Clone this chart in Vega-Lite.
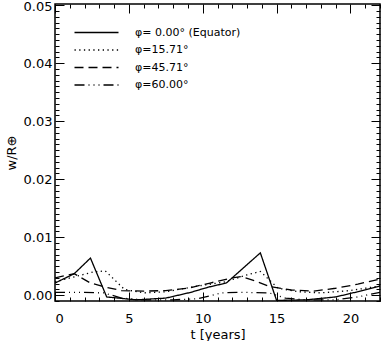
{
  "$schema": "https://vega.github.io/schema/vega-lite/v6.json",
  "width": 325,
  "height": 297,
  "autosize": {"type": "none"},
  "padding": {"left": 55, "top": 4, "right": 3, "bottom": 40},
  "background": "white",
  "config": {
    "view": {"stroke": "black", "strokeWidth": 1.5},
    "font": "DejaVu Sans",
    "axis": {"domain": false, "grid": false, "tickColor": "black", "tickWidth": 1, "labelColor": "black", "titleColor": "black", "labelFontSize": 13, "titleFontSize": 13, "titleFontWeight": "normal", "labelFont": "DejaVu Sans", "titleFont": "DejaVu Sans"}
  },
  "data": {"values": [
    {"phi": "0.00", "t": 0, "w": 0.0021},
    {"phi": "0.00", "t": 1.3, "w": 0.0037},
    {"phi": "0.00", "t": 2.4, "w": 0.0064},
    {"phi": "0.00", "t": 3.5, "w": -0.0003},
    {"phi": "0.00", "t": 5.5, "w": -0.0008},
    {"phi": "0.00", "t": 7.5, "w": -0.0005},
    {"phi": "0.00", "t": 9.2, "w": 0.0005},
    {"phi": "0.00", "t": 10.4, "w": 0.0014},
    {"phi": "0.00", "t": 11.6, "w": 0.0021},
    {"phi": "0.00", "t": 13.9, "w": 0.0073},
    {"phi": "0.00", "t": 15.0, "w": -0.0009},
    {"phi": "0.00", "t": 17.0, "w": -0.0008},
    {"phi": "0.00", "t": 19.0, "w": -0.0003},
    {"phi": "0.00", "t": 20.5, "w": 0.0006},
    {"phi": "0.00", "t": 22.0, "w": 0.0016},

    {"phi": "15.71", "t": 0, "w": 0.0023},
    {"phi": "15.71", "t": 1.5, "w": 0.0033},
    {"phi": "15.71", "t": 2.6, "w": 0.0040},
    {"phi": "15.71", "t": 3.4, "w": 0.0042},
    {"phi": "15.71", "t": 4.7, "w": 0.0010},
    {"phi": "15.71", "t": 6.0, "w": 0.0004},
    {"phi": "15.71", "t": 7.5, "w": 0.0006},
    {"phi": "15.71", "t": 9.5, "w": 0.0015},
    {"phi": "15.71", "t": 11.5, "w": 0.0023},
    {"phi": "15.71", "t": 13.0, "w": 0.0035},
    {"phi": "15.71", "t": 13.9, "w": 0.0041},
    {"phi": "15.71", "t": 15.1, "w": 0.0012},
    {"phi": "15.71", "t": 16.5, "w": 0.0006},
    {"phi": "15.71", "t": 18.0, "w": 0.0004},
    {"phi": "15.71", "t": 20.0, "w": 0.0008},
    {"phi": "15.71", "t": 22.0, "w": 0.0016},

    {"phi": "45.71", "t": 0, "w": 0.0030},
    {"phi": "45.71", "t": 1.3, "w": 0.0037},
    {"phi": "45.71", "t": 2.4, "w": 0.0021},
    {"phi": "45.71", "t": 3.4, "w": 0.0014},
    {"phi": "45.71", "t": 4.5, "w": 0.0008},
    {"phi": "45.71", "t": 6.0, "w": 0.0007},
    {"phi": "45.71", "t": 7.5, "w": 0.0008},
    {"phi": "45.71", "t": 9.0, "w": 0.0012},
    {"phi": "45.71", "t": 10.5, "w": 0.0021},
    {"phi": "45.71", "t": 12.0, "w": 0.0030},
    {"phi": "45.71", "t": 12.6, "w": 0.0032},
    {"phi": "45.71", "t": 13.5, "w": 0.0025},
    {"phi": "45.71", "t": 14.5, "w": 0.0015},
    {"phi": "45.71", "t": 16.0, "w": 0.0009},
    {"phi": "45.71", "t": 17.5, "w": 0.0007},
    {"phi": "45.71", "t": 19.0, "w": 0.0012},
    {"phi": "45.71", "t": 20.5, "w": 0.0019},
    {"phi": "45.71", "t": 22.0, "w": 0.0028},

    {"phi": "60.00", "t": 0, "w": 0.0005},
    {"phi": "60.00", "t": 1.5, "w": 0.0005},
    {"phi": "60.00", "t": 3.3, "w": 0.0004},
    {"phi": "60.00", "t": 4.5, "w": -0.0005},
    {"phi": "60.00", "t": 6.0, "w": -0.0008},
    {"phi": "60.00", "t": 8.0, "w": -0.0008},
    {"phi": "60.00", "t": 9.7, "w": -0.0006},
    {"phi": "60.00", "t": 11.3, "w": 0.0004},
    {"phi": "60.00", "t": 12.5, "w": 0.0005},
    {"phi": "60.00", "t": 14.5, "w": 0.0004},
    {"phi": "60.00", "t": 15.6, "w": -0.0005},
    {"phi": "60.00", "t": 17.0, "w": -0.0008},
    {"phi": "60.00", "t": 19.0, "w": -0.0008},
    {"phi": "60.00", "t": 20.5, "w": -0.0003},
    {"phi": "60.00", "t": 22.0, "w": 0.0005}
  ]},
  "resolve": {"axis": {"x": "independent", "y": "independent"}},
  "layer": [
    {
      "mark": {"type": "line", "color": "black", "strokeWidth": 1.3, "clip": true},
      "encoding": {
        "x": {"field": "t", "type": "quantitative", "scale": {"domain": [0, 22], "nice": false, "zero": false},
          "axis": {"orient": "bottom", "title": "t [years]", "values": [0,1,2,3,4,5,6,7,8,9,10,11,12,13,14,15,16,17,18,19,20,21,22],
            "tickSize": {"condition": {"test": "datum.value % 5 === 0", "value": -9}, "value": -4},
            "labelExpr": "datum.value % 5 === 0 ? datum.label : ''", "labelPadding": 20, "titlePadding": 3}},
        "y": {"field": "w", "type": "quantitative", "scale": {"domain": [-0.001, 0.0502], "nice": false, "zero": false},
          "axis": {"orient": "left", "title": "w/R⊕", "values": [-0.001,0,0.001,0.002,0.003,0.004,0.005,0.006,0.007,0.008,0.009,0.01,0.011,0.012,0.013,0.014,0.015,0.016,0.017,0.018,0.019,0.02,0.021,0.022,0.023,0.024,0.025,0.026,0.027,0.028,0.029,0.03,0.031,0.032,0.033,0.034,0.035,0.036,0.037,0.038,0.039,0.04,0.041,0.042,0.043,0.044,0.045,0.046,0.047,0.048,0.049,0.05],
            "tickSize": {"condition": {"test": "round(datum.value*1000) % 10 === 0", "value": -9}, "value": -4},
            "labelOffset": {"condition": {"test": "round(datum.value*1000) === 50", "value": 1.5}, "value": 0},
            "labelExpr": "round(datum.value*1000) % 10 === 0 ? format(datum.value, '.2f') : ''", "labelPadding": 12, "titlePadding": 5}},
        "strokeDash": {"field": "phi", "type": "nominal",
          "scale": {"domain": ["0.00", "15.71", "45.71", "60.00"], "range": [[1, 0], [1.3, 3.4], [9, 5], [10, 4, 1, 4, 1, 4, 1, 4]]},
          "legend": {"orient": "none", "legendX": 36, "legendY": 23, "title": null, "symbolType": "M-22,0H22", "symbolSize": 4, "symbolStrokeWidth": 1.3, "symbolStrokeColor": "black", "labelFontSize": 11, "labelFont": "DejaVu Sans", "labelColor": "black", "labelOffset": 33, "rowPadding": 5.5,
            "labelExpr": "datum.value === '0.00' ? 'φ= 0.00° (Equator)' : 'φ=' + datum.value + '°'"}}
      }
    },
    {
      "mark": {"type": "line", "opacity": 0},
      "encoding": {
        "x": {"field": "t", "type": "quantitative",
          "axis": {"orient": "top", "title": null, "labels": false, "values": [0,1,2,3,4,5,6,7,8,9,10,11,12,13,14,15,16,17,18,19,20,21,22],
            "tickSize": {"condition": {"test": "datum.value % 5 === 0", "value": -9}, "value": -4}}},
        "y": {"field": "w", "type": "quantitative",
          "axis": {"orient": "right", "title": null, "labels": false, "values": [-0.001,0,0.001,0.002,0.003,0.004,0.005,0.006,0.007,0.008,0.009,0.01,0.011,0.012,0.013,0.014,0.015,0.016,0.017,0.018,0.019,0.02,0.021,0.022,0.023,0.024,0.025,0.026,0.027,0.028,0.029,0.03,0.031,0.032,0.033,0.034,0.035,0.036,0.037,0.038,0.039,0.04,0.041,0.042,0.043,0.044,0.045,0.046,0.047,0.048,0.049,0.05],
            "tickSize": {"condition": {"test": "round(datum.value*1000) % 10 === 0", "value": -9}, "value": -4}}},
        "detail": {"field": "phi"}
      }
    }
  ]
}
